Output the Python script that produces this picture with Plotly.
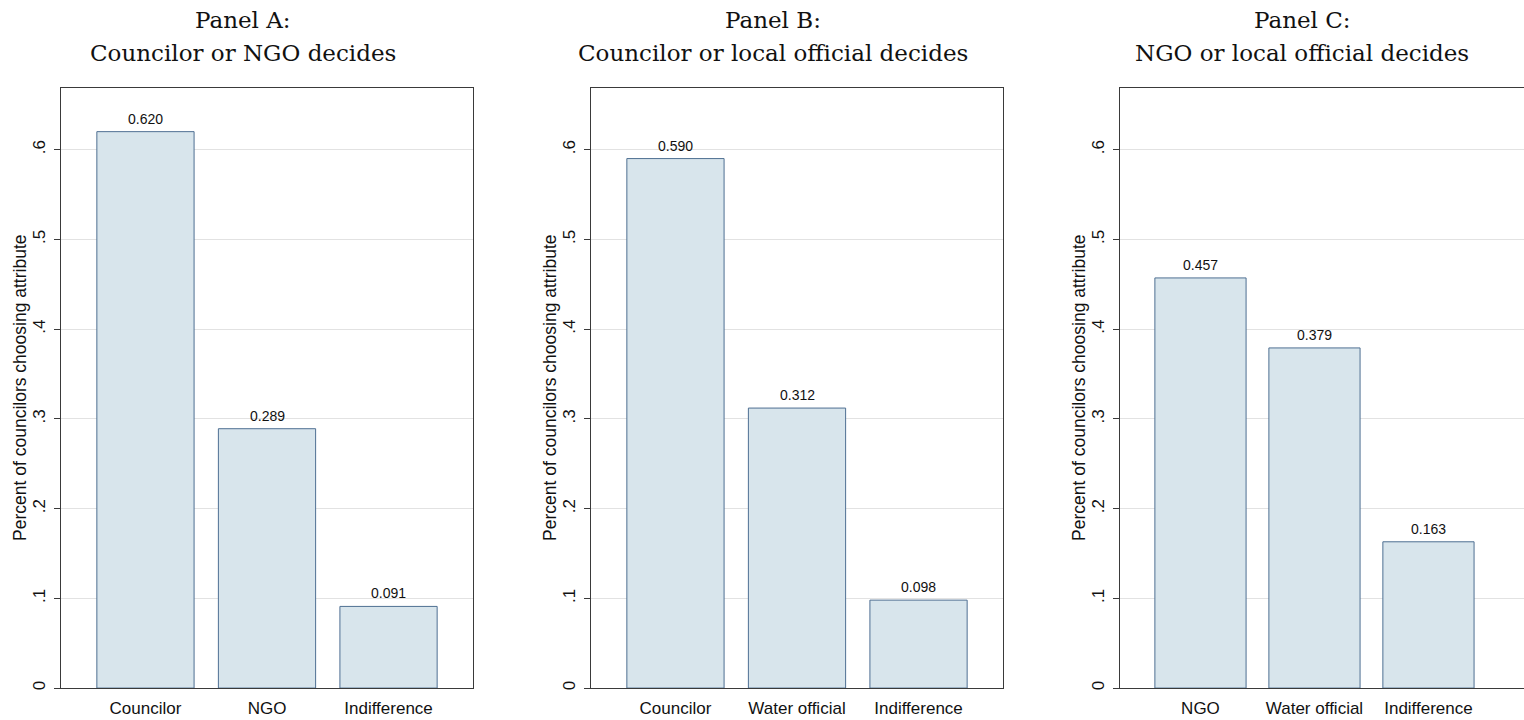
import plotly.graph_objects as go

# ---- data ----
panel_titles = ["Panel A:<br>Councilor or NGO decides",
                "Panel B:<br>Councilor or local official decides",
                "Panel C:<br>NGO or local official decides"]
cats_a = ["Councilor", "NGO", "Indifference"]
vals_a = [0.620, 0.289, 0.091]
cats_b = ["Councilor", "Water official", "Indifference"]
vals_b = [0.590, 0.312, 0.098]
cats_c = ["NGO", "Water official", "Indifference"]
vals_c = [0.457, 0.379, 0.163]
y_tickvals = [0, 0.1, 0.2, 0.3, 0.4, 0.5, 0.6]
y_ticktext = ["0", ".1", ".2", ".3", ".4", ".5", ".6"]
y_title = "Percent of councilors choosing attribute"

W, H = 1524, 720
FILL = "#d8e5ec"
EDGE = "#4e6f92"
FRAME = "#3a3a3a"
GRID = "#e2e2e2"
SANS = "Liberation Sans, Arial, sans-serif"
SERIF = "DejaVu Serif, serif"

panels = [
    dict(cats=cats_a, vals=vals_a, left=61, right=473, xr=[-0.695, 2.695], mirror_y=True),
    dict(cats=cats_b, vals=vals_b, left=591, right=1003, xr=[-0.695, 2.695], mirror_y=True),
    dict(cats=cats_c, vals=vals_c, left=1120, right=1524, xr=[-0.706, 2.838], mirror_y=False),
]

y_dom = [1 - 690 / H, 1 - 88 / H]
y_range = [0, 0.6689]

fig = go.Figure()
annotations = []
for i, p in enumerate(panels):
    n = "" if i == 0 else str(i + 1)
    xa = "x" + n
    ya = "y" + n
    fig.add_trace(go.Bar(
        x=p["cats"], y=p["vals"], xaxis=xa, yaxis=ya,
        width=0.8, marker=dict(color=FILL, line=dict(color=EDGE, width=1)),
        showlegend=False, hoverinfo="x+y"))
    dom = [p["left"] / W, min(p["right"] / W, 1.0)]
    fig.layout["xaxis" + n] = dict(
        domain=dom, range=p["xr"], anchor=ya, type="category",
        showline=True, linecolor=FRAME, linewidth=1, mirror=True,
        ticks="", showgrid=False, zeroline=False, ticklabelstandoff=5,
        tickfont=dict(family=SANS, size=17, color="#111"),
        fixedrange=True)
    fig.layout["yaxis" + n] = dict(
        domain=y_dom, range=y_range, anchor=xa,
        showline=True, linecolor=FRAME, linewidth=1, mirror=p["mirror_y"],
        ticks="outside", ticklen=6, tickcolor=FRAME, tickwidth=1,
        tickvals=y_tickvals, ticktext=y_ticktext, tickangle=-90,
        ticklabelstandoff=2,
        tickfont=dict(family=SANS, size=17, color="#111"),
        showgrid=True, gridcolor=GRID, gridwidth=1, zeroline=False,
        fixedrange=True)
    # value labels
    for c, v in zip(p["cats"], p["vals"]):
        annotations.append(dict(
            x=c, y=v, xref=xa, yref=ya, text=f"{v:.3f}", showarrow=False,
            yanchor="bottom", yshift=3,
            font=dict(family=SANS, size=14, color="#111")))
    # y-axis title
    annotations.append(dict(
        x=(p["left"] - 41) / W, y=(y_dom[0] + y_dom[1]) / 2, xref="paper", yref="paper",
        text=y_title, textangle=-90, showarrow=False,
        xanchor="center", yanchor="middle",
        font=dict(family=SANS, size=17.5, color="#111")))
    # panel title
    t1, t2 = panel_titles[i].split("<br>")
    cx = (p["left"] + 182) / W
    annotations.append(dict(
        x=cx, y=1 - 20 / H, xref="paper", yref="paper", text=t1, showarrow=False,
        xanchor="center", yanchor="middle",
        font=dict(family=SERIF, size=23, color="#111")))
    annotations.append(dict(
        x=cx, y=1 - 53 / H, xref="paper", yref="paper", text=t2, showarrow=False,
        xanchor="center", yanchor="middle",
        font=dict(family=SERIF, size=23, color="#111")))

fig.update_layout(
    width=W, height=H, margin=dict(l=0, r=0, t=0, b=0),
    paper_bgcolor="white", plot_bgcolor="white",
    annotations=annotations, bargap=0.2)

fig.write_html("out.html", config={"displayModeBar": False})
